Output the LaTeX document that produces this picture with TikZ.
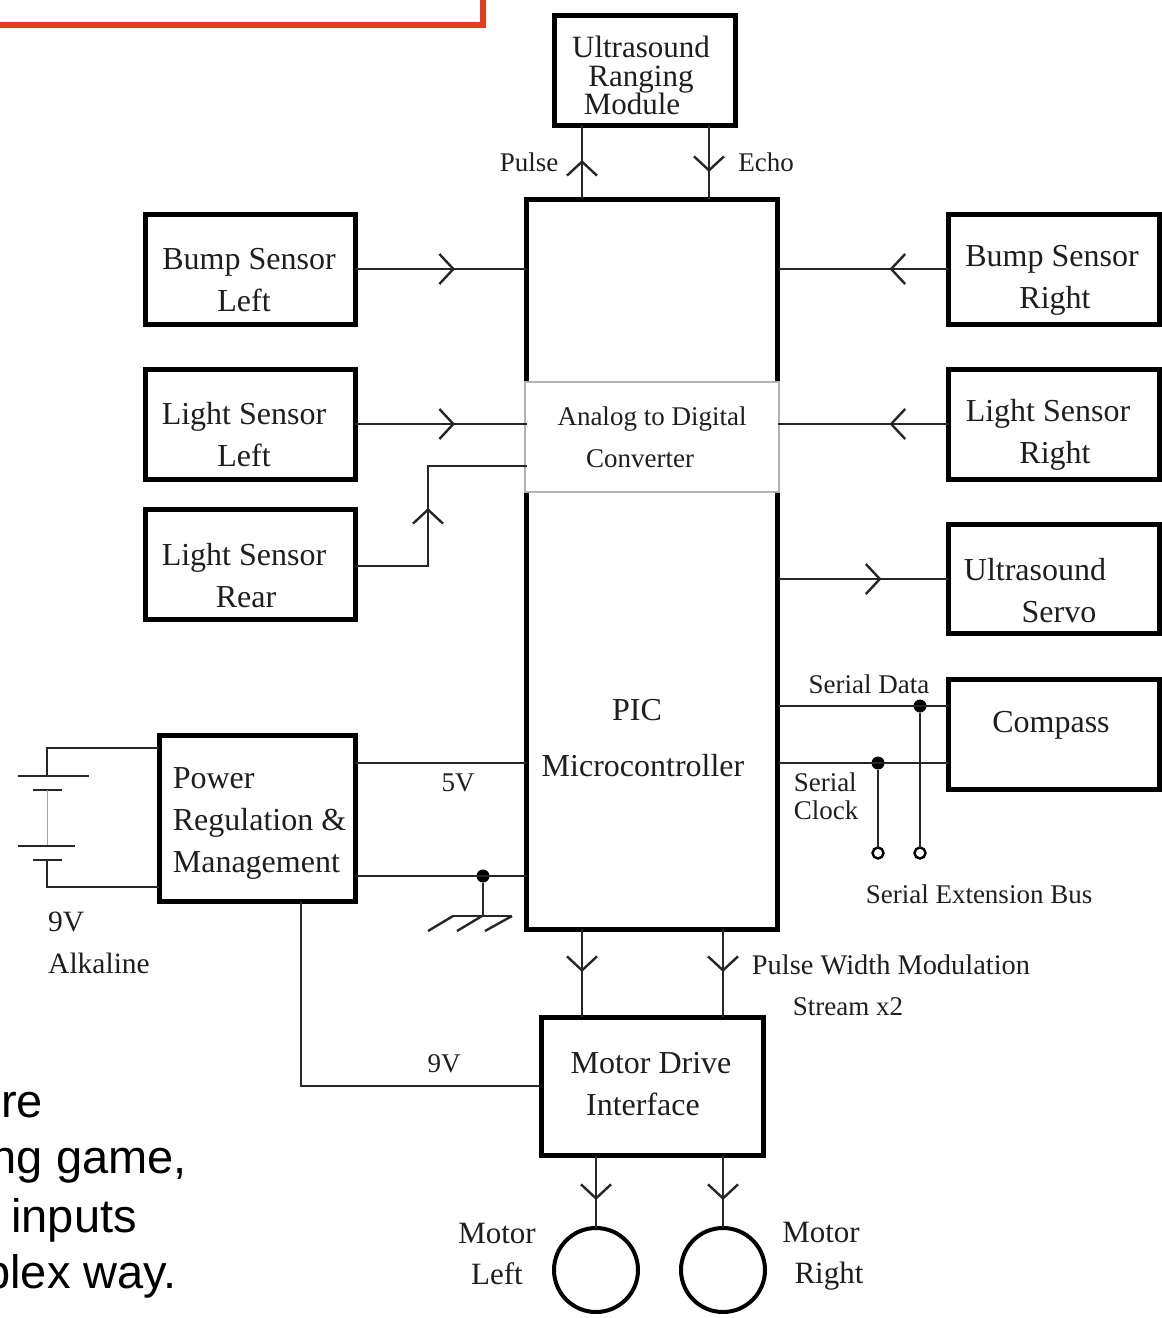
\documentclass[tikz,border=0pt]{standalone}
\usepackage{fontspec}
\setmainfont{Liberation Serif}
\newfontfamily\slidefont{Liberation Sans}
\usepackage{tikz}
\usetikzlibrary{
  positioning,
  arrows.meta,
  decorations.markings,
  calc
}
\definecolor{framecolor}{RGB}{226,64,28}
\definecolor{inkcolor}{RGB}{30,30,30}
\tikzset{
  blockbox/.style={
    draw=black, fill=white, line width=5pt, outer sep=0pt, inner sep=0pt
  },
  boxtext/.style={
    inner sep=0pt, text=inkcolor, font=\fontsize{32}{42}\selectfont, align=center
  },
  wire/.style={
    draw=black!85, line width=2.4pt, line join=miter
  },
  midarrow/.style={
    wire, postaction={decorate},
    decoration={markings, mark=at position #1 with {\arrow{Straight Barb[length=14pt,width=30pt]}}}
  },
  textlabel/.style={
    inner sep=0pt, text=inkcolor, font=\fontsize{27}{42}\selectfont, align=left
  },
  dotnode/.style={
    circle, fill=black, minimum size=13pt, inner sep=0pt, outer sep=0pt
  },
  opennode/.style={
    circle, draw=black, fill=white, line width=2.4pt, minimum size=11pt, inner sep=0pt, outer sep=0pt
  },
  slideline/.style={
    anchor=base east, inner sep=0pt, text=black, font=\slidefont\fontsize{47}{47}\selectfont
  }
}
\begin{document}
\begin{tikzpicture}[x=1pt,y=-1pt]
    \useasboundingbox (0,0) rectangle (1162,1318);

    % frame left over at the top
    \coordinate (frameL) at (0,25);
    \coordinate (frameT) at (483,0);
    \draw[draw=framecolor, line width=5.5pt] (frameL) -| (frameT);

    % blocks
    \node[blockbox, minimum width=181pt, minimum height=110pt] (ranging) at (645,70) {};
    \node[blockbox, minimum width=251pt, minimum height=730pt] (pic) at (652,564) {};
    \node[blockbox, minimum width=210pt, minimum height=110pt] (bumpL) at (250,269) {};
    \node[blockbox, minimum width=211pt, minimum height=110pt] (bumpR) at (1054,269) {};
    \node[blockbox, minimum width=210pt, minimum height=110pt] (lightL) at (250,424) {};
    \node[blockbox, minimum width=211pt, minimum height=110pt] (lightR) at (1054,424) {};
    \node[blockbox, minimum width=210pt, minimum height=110pt] (lightB) at (250,564.5) {};
    \node[blockbox, minimum width=211pt, minimum height=109pt] (servo) at (1054,579) {};
    \node[blockbox, minimum width=211pt, minimum height=110pt] (compass) at (1054,734) {};
    \node[blockbox, minimum width=196pt, minimum height=166pt] (power) at (257,818) {};
    \node[blockbox, minimum width=222pt, minimum height=138pt] (drive) at (652,1086) {};
    \node[blockbox, circle, line width=4pt, minimum size=84pt] (motorL) at (596,1270) {};
    \node[blockbox, circle, line width=4pt, minimum size=84pt] (motorR) at (723,1270) {};

    % text in the blocks
    \node[boxtext, font=\fontsize{31}{28.5}\selectfont] (rangingText) at (641,75.5) {Ultrasound\\Ranging\hspace*{8pt}\\Module\hspace*{18pt}};
    \node[boxtext] (bumpLText) at (249,280.5) {Bump Sensor\\Left\hspace*{10pt}};
    \node[boxtext] (bumpRText) at (1052,280.5) {Bump Sensor\\\hspace*{6pt}Right};
    \node[boxtext] (lightLText) at (244,435) {Light Sensor\\Left};
    \node[boxtext] (lightRText) at (1048,435) {Light Sensor\\\hspace*{14pt}Right};
    \node[boxtext] (lightBText) at (244,576) {Light Sensor\\\hspace*{4pt}Rear};
    \node[boxtext] (servoText) at (1040,591) {Ultrasound\hspace*{10pt}\\\hspace*{38pt}Servo};
    \node[boxtext] (compassText) at (1051,725) {Compass};
    \node[boxtext, align=left] (powerText) at (259.5,823) {Power\\Regulation \&\\Management};
    \node[boxtext] (driveText) at (651,1084) {Motor Drive\\Interface\hspace*{16pt}};

    % converter patch on the controller
    \node[draw=black!30, fill=white, line width=1.2pt, minimum width=254pt, minimum height=110pt, outer sep=0pt, inner sep=0pt, text=inkcolor, font=\fontsize{27}{42}\selectfont, align=center] (adc) at (652,437) {Analog to Digital\\Converter\hspace*{24pt}};
    \node[boxtext, font=\fontsize{32}{56}\selectfont] (picText) at (643,738) {PIC\hspace*{12pt}\\Microcontroller};

    % text beside the connectors
    \node[textlabel] (pulseText) at (529,162) {Pulse};
    \node[textlabel] (echoText) at (766,162) {Echo};
    \node[textlabel] (dataText) at (869,684) {Serial Data};
    \node[textlabel, font=\fontsize{27}{28}\selectfont] (clockText) at (826,796) {Serial\\Clock};
    \node[textlabel] (busText) at (979,894) {Serial Extension Bus};
    \node[textlabel] (fiveText) at (458,783) {5V};
    \node[textlabel] (nineText) at (444,1064) {9V};
    \node[textlabel, font=\fontsize{29.5}{42}\selectfont] (alkText) at (99,943) {9V\\Alkaline};
    \node[textlabel, font=\fontsize{28.4}{42}\selectfont] (pwmText) at (891,965) {Pulse Width Modulation};
    \node[textlabel] (streamText) at (848,1007) {Stream x2};
    \node[boxtext, font=\fontsize{31}{41}\selectfont] (motorLText) at (497,1254) {Motor\\Left};
    \node[boxtext, font=\fontsize{31}{41}\selectfont] (motorRText) at (821,1256) {Motor\\\hspace*{16pt}Right};

    % cut off slide text
    \node[slideline] (slideA) at (43,1117) {re};
    \node[slideline] (slideB) at (187,1173) {ng game,};
    \node[slideline] (slideC) at (137,1232) {inputs};
    \node[slideline] (slideD) at (177,1288) {plex way.};

    % helper coordinates
    \coordinate (xPulse) at (582,0);
    \coordinate (xEcho) at (709,0);
    \coordinate (xRear) at (428,0);
    \coordinate (yRearOut) at (0,566);
    \coordinate (yRear) at (0,466);
    \coordinate (yFive) at (0,763);
    \coordinate (yGnd) at (0,876);
    \coordinate (yData) at (0,706);
    \coordinate (yClock) at (0,763);
    \coordinate (xOutA) at (582,0);
    \coordinate (xOutB) at (723,0);
    \coordinate (xNine) at (301,0);

    % sensors
    \draw[midarrow=39pt] (pic.north -| xPulse) -- (ranging.south -| xPulse);
    \draw[midarrow=47pt] (ranging.south -| xEcho) -- (pic.north -| xEcho);
    \draw[midarrow=100pt] (bumpL.east) -- (bumpL.east -| pic.west);
    \draw[midarrow=59pt] (bumpR.west) -- (bumpR.west -| pic.east);
    \draw[midarrow=100pt] (lightL.east) -- (lightL.east -| pic.west);
    \draw[midarrow=59pt] (lightR.west) -- (lightR.west -| pic.east);
    \draw[midarrow=131pt] (lightB.east |- yRearOut) -- (xRear |- yRearOut) -- (xRear |- yRear) -- (pic.west |- yRear);
    \draw[midarrow=104pt] (servo.west -| pic.east) -- (servo.west);

    % serial lines
    \node[dotnode] (dataDot) at (920,706) {};
    \node[dotnode] (clockDot) at (878,763) {};
    \node[opennode] (dataEnd) at (920,853) {};
    \node[opennode] (clockEnd) at (878,853) {};
    \draw[wire] (pic.east |- yData) -- (compass.west |- yData);
    \draw[wire] (pic.east |- yClock) -- (compass.west |- yClock);
    \draw[wire] (dataDot) -- (dataEnd);
    \draw[wire] (clockDot) -- (clockEnd);

    % power
    \node[dotnode] (gndDot) at (483,876) {};
    \coordinate (gndFoot) at (483,916);
    \draw[wire] (power.east |- yFive) -- (pic.west |- yFive);
    \draw[wire] (power.east |- yGnd) -- (pic.west |- yGnd);
    \draw[wire] (gndDot) -- (gndFoot);
    \draw[wire] (453,916) -- (512,916);
    \draw[wire] (453,916) -- (428,931);
    \draw[wire] (482,916) -- (457,931);
    \draw[wire] (512,916) -- (485,931);
    \draw[wire] (power.south -| xNine) |- (drive.west);

    % battery
    \coordinate (batTop) at (47,748);
    \coordinate (batBot) at (47,887);
    \draw[wire] (47,776) -- (batTop) -- (batTop -| power.west);
    \draw[wire] (47,860) -- (batBot) -- (batBot -| power.west);
    \draw[wire] (18,776) -- (89,776);
    \draw[wire] (33,790) -- (62,790);
    \draw[draw=black!35, line width=1pt] (47,790) -- (47,846);
    \draw[wire] (18,846) -- (75,846);
    \draw[wire] (33,860) -- (62,860);

    % motors
    \draw[midarrow=43pt] (pic.south -| xOutA) -- (drive.north -| xOutA);
    \draw[midarrow=43pt] (pic.south -| xOutB) -- (drive.north -| xOutB);
    \draw[midarrow=45pt] (drive.south -| motorL) -- (motorL.north);
    \draw[midarrow=45pt] (drive.south -| motorR) -- (motorR.north);

\end{tikzpicture}
\end{document}
